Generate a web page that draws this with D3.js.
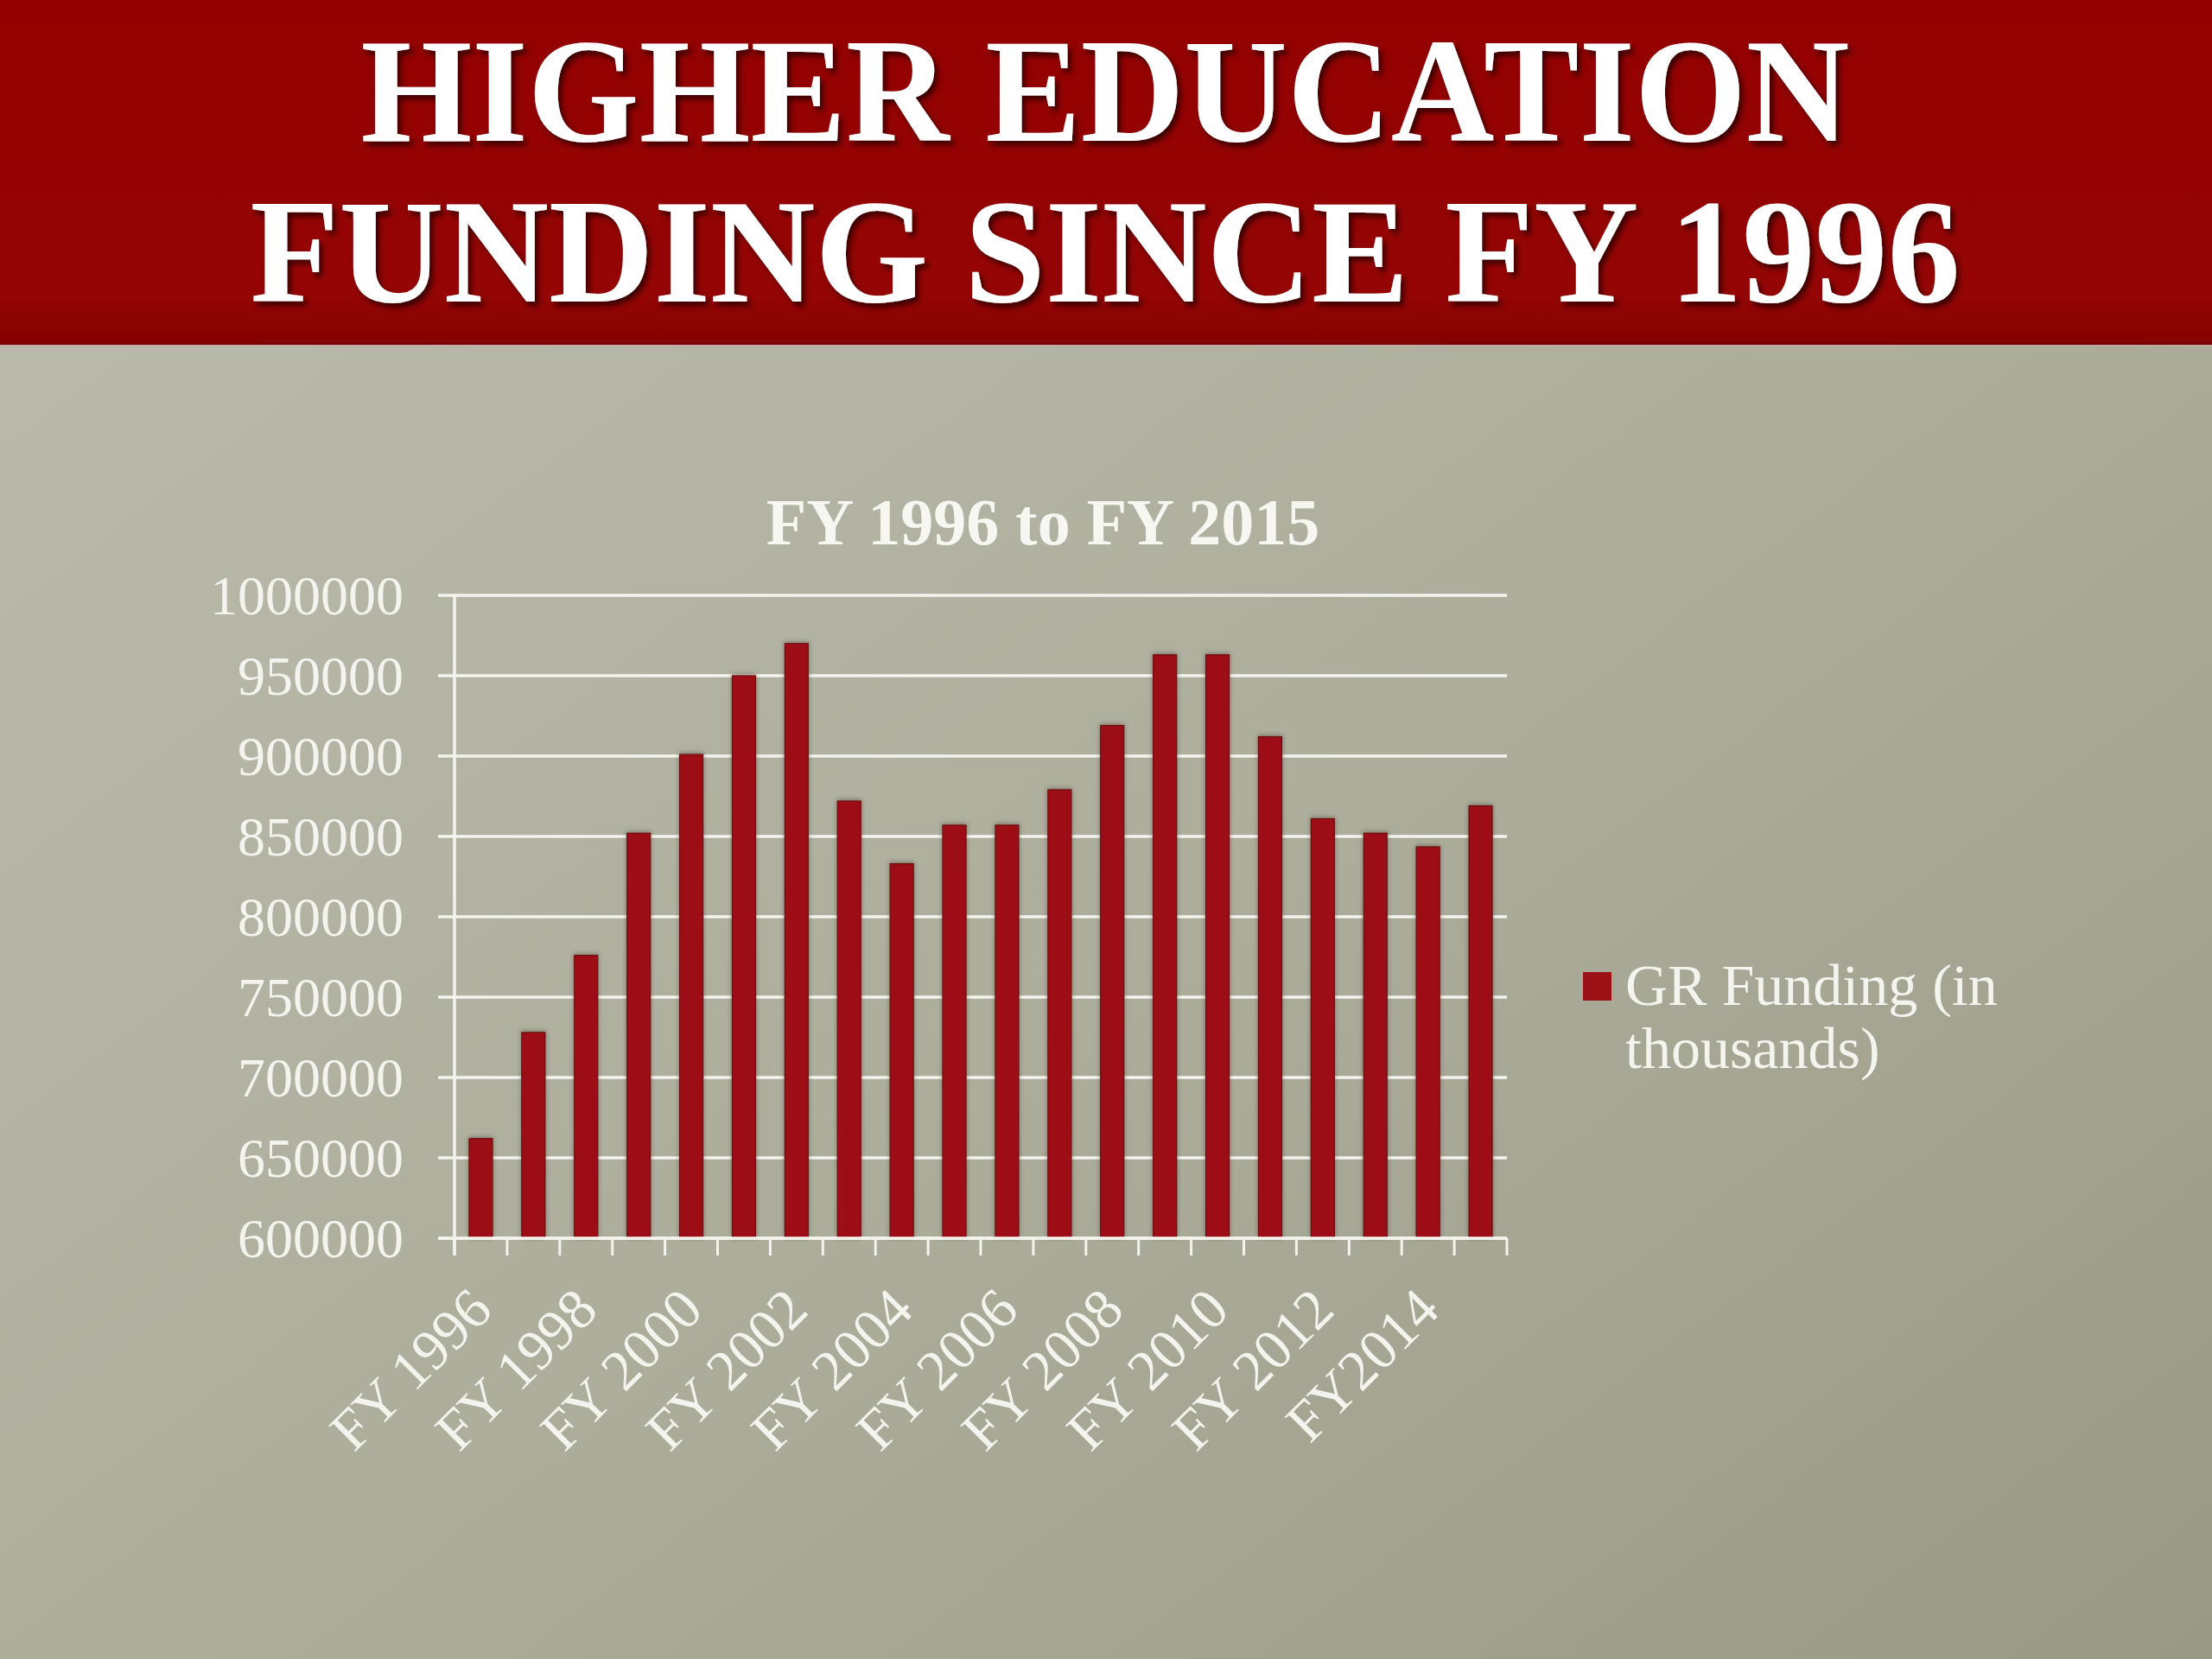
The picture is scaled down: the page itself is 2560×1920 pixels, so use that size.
<!DOCTYPE html>
<html>
<head>
<meta charset="utf-8">
<script src="https://cdn.jsdelivr.net/npm/d3@7"></script>
<style>
html,body{margin:0;padding:0;background:#b0b0a0;}
svg{display:block;}
</style>
</head>
<body>
<svg id="chart" width="2560" height="1920"></svg>
<script>
// ---- data ----
const categories = ["FY 1996","FY 1997","FY 1998","FY 1999","FY 2000","FY 2001","FY 2002","FY 2003","FY 2004","FY 2005",
                    "FY 2006","FY 2007","FY 2008","FY 2009","FY 2010","FY 2011","FY 2012","FY 2013","FY2014","FY 2015"];
const values = [662000,728000,776000,852000,901000,950000,970000,872000,833000,857000,
                857000,879000,919000,963000,963000,912000,861000,852000,843500,869000];
const shownLabels = ["FY 1996","FY 1998","FY 2000","FY 2002","FY 2004","FY 2006","FY 2008","FY 2010","FY 2012","FY2014"];
const yTicks = [600000,650000,700000,750000,800000,850000,900000,950000,1000000];
const seriesName = ["GR Funding (in","thousands)"];
const headerLines = ["HIGHER EDUCATION","FUNDING SINCE FY 1996"];
const chartTitle = "FY 1996 to FY 2015";

const W = 2560, H = 1920;
const svg = d3.select("#chart");
const defs = svg.append("defs");

// background gradient
const bg = defs.append("linearGradient").attr("id","bg")
  .attr("x1","0").attr("y1","0").attr("x2","1").attr("y2","1");
bg.append("stop").attr("offset","0%").attr("stop-color","#bcbdae");
bg.append("stop").attr("offset","55%").attr("stop-color","#adad9c");
bg.append("stop").attr("offset","100%").attr("stop-color","#9a9985");
const hd = defs.append("linearGradient").attr("id","hd")
  .attr("x1","0").attr("y1","0").attr("x2","0").attr("y2","1");
hd.append("stop").attr("offset","0%").attr("stop-color","#940000");
hd.append("stop").attr("offset","85%").attr("stop-color","#950505");
hd.append("stop").attr("offset","100%").attr("stop-color","#850000");

const shadow = defs.append("filter").attr("id","tshadow").attr("x","-5%").attr("y","-10%").attr("width","110%").attr("height","130%");
shadow.append("feDropShadow").attr("dx",4).attr("dy",5).attr("stdDeviation",3).attr("flood-color","#2a0000").attr("flood-opacity",0.85);
const bshadow = defs.append("filter").attr("id","bshadow").attr("x","-30%").attr("y","-5%").attr("width","160%").attr("height","110%");
bshadow.append("feDropShadow").attr("dx",0).attr("dy",-1).attr("stdDeviation",2.5).attr("flood-color","#3a2a20").attr("flood-opacity",0.5);

svg.append("rect").attr("width",W).attr("height",H).attr("fill","url(#bg)");
svg.append("rect").attr("width",W).attr("height",398).attr("fill","url(#hd)");
svg.append("rect").attr("y",396).attr("width",W).attr("height",3).attr("fill","#7a0000");
svg.append("rect").attr("y",399).attr("width",W).attr("height",2).attr("fill","#c9a9a2").attr("opacity",0.6);

// header title
const headerY = [163, 349];
const headerLen = [1723, 1979];
svg.append("g").attr("filter","url(#tshadow)")
  .selectAll("text").data(headerLines).join("text")
  .attr("x",1279).attr("y",(d,i)=>headerY[i])
  .attr("text-anchor","middle")
  .attr("font-family","'Liberation Serif','Times New Roman',serif")
  .attr("font-weight","bold")
  .attr("font-size",172)
  .attr("textLength",(d,i)=>headerLen[i])
  .attr("lengthAdjust","spacingAndGlyphs")
  .attr("fill","#ffffff")
  .text(d=>d);

// plot geometry
const x0 = 526, x1 = 1744, yTop = 689, yBot = 1433;
const x = d3.scaleBand().domain(categories).range([x0,x1]).paddingInner(0.557).paddingOuter(0.2785);
const y = d3.scaleLinear().domain([600000,1000000]).range([yBot,yTop]);
const step = (x1-x0)/categories.length;

const font = "'Liberation Serif','Times New Roman',serif";
const white = "#f4f4ee";

// gridlines
svg.append("g").selectAll("line").data(yTicks).join("line")
  .attr("x1",x0-19).attr("x2",x1)
  .attr("y1",d=>y(d)).attr("y2",d=>y(d))
  .attr("stroke",white).attr("stroke-width",3.5);

// y axis labels
const yAxis = d3.axisLeft(y).tickValues(yTicks).tickSize(0).tickPadding(0).tickFormat(d3.format("d"));
const yg = svg.append("g").attr("transform",`translate(${x0-59},0)`).call(yAxis);
yg.select(".domain").remove();
yg.selectAll("text").attr("font-family",font).attr("font-size",64).attr("fill",white).attr("dy","0.34em");

// y axis line
svg.append("line").attr("x1",x0).attr("x2",x0).attr("y1",yTop).attr("y2",yBot+20)
  .attr("stroke",white).attr("stroke-width",3.5);

// bars
svg.append("g").attr("filter","url(#bshadow)").selectAll("rect").data(values).join("rect")
  .attr("x",(d,i)=>x(categories[i]))
  .attr("width",x.bandwidth())
  .attr("y",d=>y(d))
  .attr("height",d=>yBot-y(d))
  .attr("fill","#9c1116")
  .attr("stroke","#6e0c0e").attr("stroke-width",1.2);

// x axis line + ticks at category boundaries
svg.append("line").attr("x1",x0-19).attr("x2",x1).attr("y1",yBot).attr("y2",yBot)
  .attr("stroke",white).attr("stroke-width",3.5);
svg.append("g").selectAll("line").data(d3.range(categories.length+1)).join("line")
  .attr("x1",i=>x0+i*step).attr("x2",i=>x0+i*step)
  .attr("y1",yBot).attr("y2",yBot+20)
  .attr("stroke",white).attr("stroke-width",3);

// x labels
svg.append("g").selectAll("text").data(shownLabels).join("text")
  .attr("transform",d=>`translate(${x(d)+x.bandwidth()/2+16},${yBot+86}) rotate(-45)`)
  .attr("text-anchor","end")
  .attr("font-family",font).attr("font-size",66).attr("fill",white)
  .text(d=>d);

// chart title
svg.append("text").attr("x",1207).attr("y",630).attr("text-anchor","middle")
  .attr("font-family",font).attr("font-weight","bold").attr("font-size",76)
  .attr("fill","#f7f7f2").text(chartTitle);

// legend
svg.append("rect").attr("x",1832).attr("y",1125).attr("width",33).attr("height",33).attr("fill","#9c1116");
svg.append("g").selectAll("text").data(seriesName).join("text")
  .attr("x",1881).attr("y",(d,i)=>1163+i*73)
  .attr("font-family",font).attr("font-size",68).attr("fill",white)
  .text(d=>d);
</script>
</body>
</html>
